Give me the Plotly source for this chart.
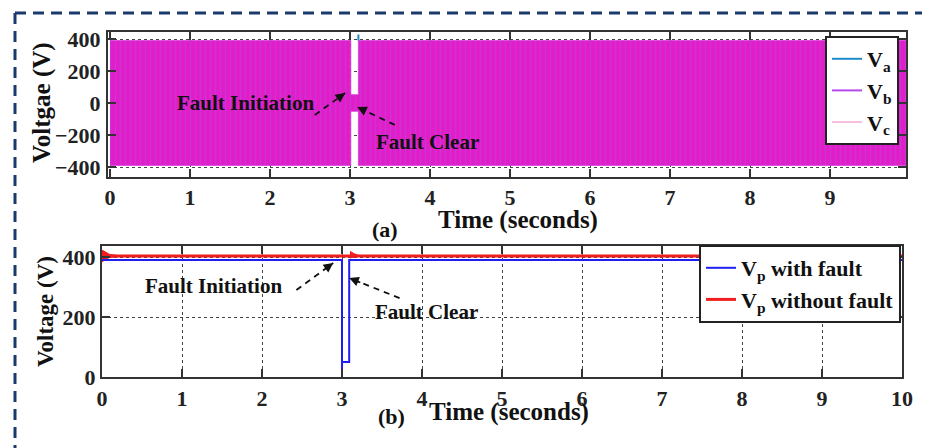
import plotly.graph_objects as go

# page body has an 8px default margin: figure drawn at offset (8, 8)
OX, OY = 8, 8
W, H = 930 - OX, 448 - OY
FONT = "Liberation Serif"

# ---------------- data (a): three-phase voltage envelope ----------------
env_t = [0.0, 3.01, 3.01, 3.105, 3.105, 9.95]
env_upper = [390, 390, 52, 52, 390, 390]
env_lower = [-390, -390, -52, -52, -390, -390]
spike_t = [3.105, 3.105]
spike_v = [390, 428]
phase_names = ["V<sub>a</sub>", "V<sub>b</sub>", "V<sub>c</sub>"]
phase_colors = ["#1f8ac8", "#b548ec", "#f8c0e0"]

# ---------------- data (b): Vp ----------------
vpf_t = [0.0, 3.0, 3.0, 3.0, 3.09, 3.09, 10.0]
vpf_v = [390, 390, 0, 50, 50, 390, 390]
vpn_t = [0.0, 10.0]
vpn_v = [403, 403]
tr1_t = [0.0, 0.05, 0.1, 0.2, 0.3]
tr1_up = [423, 414, 408, 405, 403]
tr1_lo = [384, 393, 399, 401, 403]
tr2_t = [3.1, 3.15, 3.2, 3.28]
tr2_up = [419, 411, 406, 403]
tr2_lo = [397, 400, 402, 403]

xticks_a = [0, 1, 2, 3, 4, 5, 6, 7, 8, 9]
yticks_a = [-400, -200, 0, 200, 400]
xticks_b = [0, 1, 2, 3, 4, 5, 6, 7, 8, 9, 10]
yticks_b = [0, 200, 400]


def band(t, up, lo):
    return list(t) + list(t)[::-1], list(up) + list(lo)[::-1]


fig = go.Figure()

bx, by = band(env_t, env_upper, env_lower)
fig.add_trace(go.Scatter(
    x=bx, y=by, mode="lines", fill="toself", fillcolor="#e41cc8",
    fillpattern=dict(shape="|", fgcolor="#b24ae6", bgcolor="#e41cc8", size=5, solidity=0.3),
    line=dict(width=0.8, color="#d83ad8"), showlegend=False, xaxis="x", yaxis="y"))
fig.add_trace(go.Scatter(x=spike_t, y=spike_v, mode="lines",
                         line=dict(color=phase_colors[0], width=2), showlegend=False,
                         xaxis="x", yaxis="y"))
for n, c in zip(phase_names, phase_colors):
    fig.add_trace(go.Scatter(x=[None], y=[None], mode="lines", name=n,
                             line=dict(color=c, width=2), legend="legend",
                             xaxis="x", yaxis="y"))

RED, BLUE = "#f01e1e", "#1e1ef0"
fig.add_trace(go.Scatter(x=vpn_t, y=vpn_v, mode="lines", name="V<sub>p</sub> without fault",
                         line=dict(color=RED, width=3), legend="legend2", legendrank=2,
                         xaxis="x2", yaxis="y2"))
for tt, uu, ll in ((tr1_t, tr1_up, tr1_lo), (tr2_t, tr2_up, tr2_lo)):
    px_, py_ = band(tt, uu, ll)
    fig.add_trace(go.Scatter(x=px_, y=py_, mode="lines", fill="toself", fillcolor=RED,
                             line=dict(color=RED, width=1), showlegend=False,
                             xaxis="x2", yaxis="y2"))
fig.add_trace(go.Scatter(x=vpf_t, y=vpf_v, mode="lines", name="V<sub>p</sub> with fault",
                         line=dict(color=BLUE, width=2), legend="legend2", legendrank=1,
                         xaxis="x2", yaxis="y2"))


def px2paper(px, py):
    return (px - OX) / W, 1 - (py - OY) / H


axis_common = dict(showline=True, linecolor="#333333", linewidth=2, mirror="ticks",
                   ticks="inside", ticklen=8, tickwidth=1.5, tickcolor="#333333",
                   showgrid=True, gridcolor="#444444", griddash="dot", gridwidth=1,
                   zeroline=False, automargin=False,
                   tickfont=dict(family=FONT, size=22, color="#222222", weight="bold"))

ax_l, ay_t = px2paper(108, 32)
ax_r, ay_b = px2paper(906, 177)
bx_l, by_t = px2paper(102, 246)
bx_r, by_b = px2paper(902, 377)
lg1x, lg1y = px2paper(899, 36)
lg2x, lg2y = px2paper(901, 245)

fig.update_layout(
    width=W, height=H, margin=dict(l=0, r=0, t=0, b=0, pad=0, autoexpand=False),
    paper_bgcolor="white", plot_bgcolor="white",
    xaxis=dict(axis_common, domain=[ax_l, ax_r], range=[-0.025, 9.95], tickvals=xticks_a,
               anchor="y", ticklabelstandoff=0),
    yaxis=dict(axis_common, domain=[ay_b, ay_t], range=[-462.5, 443.75], tickvals=yticks_a,
               anchor="x", ticklabelstandoff=1),
    xaxis2=dict(axis_common, domain=[bx_l, bx_r], range=[0, 10], tickvals=xticks_b,
                anchor="y2", ticklabelstandoff=1),
    yaxis2=dict(axis_common, domain=[by_b, by_t], range=[0, 436.7], tickvals=yticks_b,
                anchor="x2", ticklabelstandoff=0),
    legend=dict(x=lg1x, y=lg1y, xanchor="right", yanchor="top",
                bgcolor="white", bordercolor="#222222", borderwidth=2, itemwidth=30,
                font=dict(family=FONT, size=22, color="#111111", weight="bold"),
                tracegroupgap=0),
    legend2=dict(x=lg2x, y=lg2y, xanchor="right", yanchor="top",
                 bgcolor="white", bordercolor="#222222", borderwidth=2, itemwidth=30,
                 font=dict(family=FONT, size=22, color="#111111", weight="bold"),
                 traceorder="normal"),
    showlegend=True,
)

# dashed frame
fx0, fy0 = px2paper(15, 13)
fig.add_shape(type="line", xref="paper", yref="paper", x0=fx0, y0=fy0, x1=1.01, y1=fy0,
              line=dict(color="#1b3a6c", width=3, dash="11px,7px"))
fig.add_shape(type="line", xref="paper", yref="paper", x0=fx0, y0=fy0, x1=fx0, y1=-0.01,
              line=dict(color="#1b3a6c", width=3, dash="11px,7px"))


def text(px, py, s, size, angle=0):
    x, y = px2paper(px, py)
    fig.add_annotation(x=x, y=y, xref="paper", yref="paper", text=s, showarrow=False,
                       textangle=angle, xanchor="center", yanchor="middle",
                       font=dict(family=FONT, size=size, color="#111111", weight="bold"))


def arrow(xr, yr, tail, tip, lab, lab_xy, size=20):
    fig.add_shape(type="line", xref=xr, yref=yr, x0=tail[0], y0=tail[1], x1=tip[0], y1=tip[1],
                  line=dict(color="#111111", width=1.8, dash="6px,5px"))
    fig.add_annotation(x=tip[0], y=tip[1], xref=xr, yref=yr, text="", showarrow=True,
                       axref=xr, ayref=yr,
                       ax=tip[0] - (tip[0] - tail[0]) * 0.25, ay=tip[1] - (tip[1] - tail[1]) * 0.25,
                       arrowhead=2, arrowsize=1.2, arrowwidth=1.6, arrowcolor="#111111")
    fig.add_annotation(x=lab_xy[0], y=lab_xy[1], xref=xr, yref=yr, text=lab, showarrow=False,
                       xanchor="center", yanchor="middle",
                       font=dict(family=FONT, size=size, color="#111111", weight="bold"))


# (a) annotations (data coordinates)
arrow("x", "y", (2.56, -75), (2.94, 62), "Fault Initiation", (1.69, 0), 21)
arrow("x", "y", (3.56, -137), (3.09, -25), "Fault Clear", (3.97, -244), 21)
# (b) annotations
arrow("x2", "y2", (2.43, 290), (2.89, 380), "Fault Initiation", (1.39, 303), 21)
arrow("x2", "y2", (3.72, 263), (3.09, 330), "Fault Clear", (4.05, 217), 21)

text(42, 103, "Voltgae (V)", 25, -90)
text(45, 312, "Voltage (V)", 23, -90)
text(518, 220, "Time (seconds)", 25)
text(385, 229, "(a)", 22)
text(509, 412, "Time (seconds)", 25)
text(391, 416, "(b)", 22)

fig.write_html("out.html")
